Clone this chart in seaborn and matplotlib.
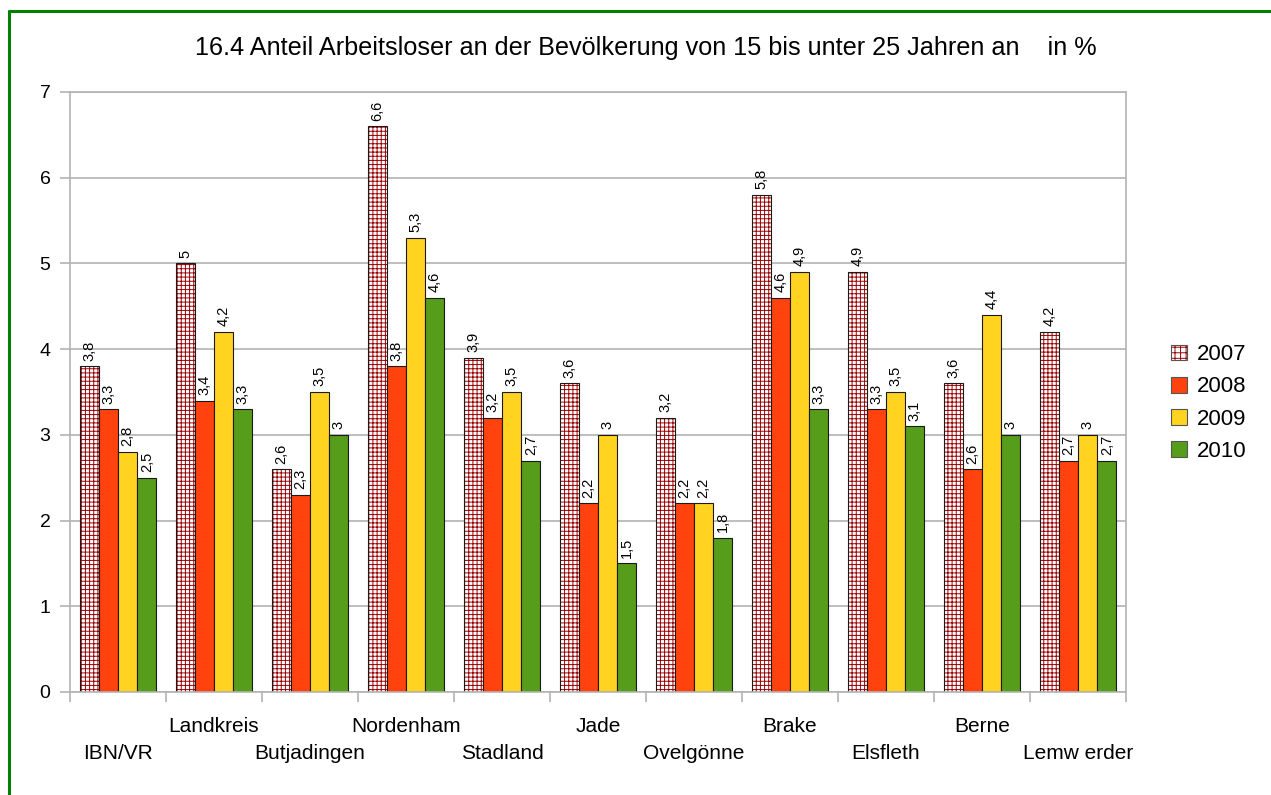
import numpy as np
import pandas as pd
import matplotlib
matplotlib.use("Agg")
import matplotlib.pyplot as plt
import seaborn as sns
from matplotlib.lines import Line2D
from matplotlib.patches import Patch
from matplotlib.colors import to_rgba

regions = ["IBN/VR", "Landkreis", "Butjadingen", "Nordenham", "Stadland", "Jade",
           "Ovelgönne", "Brake", "Elsfleth", "Berne", "Lemw erder"]
years = ["2007", "2008", "2009", "2010"]
v2007 = [3.8, 5.0, 2.6, 6.6, 3.9, 3.6, 3.2, 5.8, 4.9, 3.6, 4.2]
v2008 = [3.3, 3.4, 2.3, 3.8, 3.2, 2.2, 2.2, 4.6, 3.3, 2.6, 2.7]
v2009 = [2.8, 4.2, 3.5, 5.3, 3.5, 3.0, 2.2, 4.9, 3.5, 4.4, 3.0]
v2010 = [2.5, 3.3, 3.0, 4.6, 2.7, 1.5, 1.8, 3.3, 3.1, 3.0, 2.7]
title = "16.4 Anteil Arbeitsloser an der Bevölkerung von 15 bis unter 25 Jahren an    in %"

colors = ["#FFFFFF", "#FF420E", "#FFD320", "#579D1C"]

rows = []
for y, vals in zip(years, [v2007, v2008, v2009, v2010]):
    for r, v in zip(regions, vals):
        rows.append({"region": r, "year": y, "value": v})
df = pd.DataFrame(rows)

sns.set_theme(style="white")
plt.rcParams["font.family"] = ["Liberation Sans", "DejaVu Sans"]
plt.rcParams["text.color"] = "black"
plt.rcParams["hatch.linewidth"] = 0.6

fig = plt.figure(figsize=(12.71, 7.95), dpi=100)
ax = fig.add_axes([70/1271, 1-692/795, (1126-70)/1271, 600/795])

sns.barplot(data=df, x="region", y="value", hue="year", order=regions,
            hue_order=years, palette=colors, edgecolor="#1a1a1a", linewidth=0.8,
            width=0.8, ax=ax, legend=False, saturation=1)

hatch_col = to_rgba("#9a0000")
for p in ax.containers[0]:
    p.set_hatch("++++")
    p._hatch_color = hatch_col
    p._hatch_linewidth = 0.7

for cont in ax.containers:
    ax.bar_label(cont, labels=[f"{v:g}".replace(".", ",") for v in cont.datavalues],
                 rotation=90, padding=4, fontsize=10.5, color="#000000")

ax.set_ylim(0, 7)
ax.set_xlim(-0.5, 10.5)
ax.set_yticks(range(0, 8))
ax.set_yticklabels([str(i) for i in range(8)], fontsize=14)
ax.yaxis.grid(True, color="#b3b3b3", linewidth=1.2)
ax.set_axisbelow(True)
for s in ax.spines.values():
    s.set_color("#b3b3b3")
    s.set_linewidth(1.2)
ax.tick_params(axis="y", which="major", length=7, color="#b3b3b3", width=1.2,
               left=True, pad=7, labelcolor="black")
ax.set_xticks(np.arange(len(regions)))
ax.set_xticklabels([])
ax.set_xticks(np.arange(-0.5, len(regions)), minor=True)
ax.tick_params(axis="x", which="major", length=0)
ax.tick_params(axis="x", which="minor", length=7, color="#b3b3b3", width=1.2,
               bottom=True, direction="out")
ax.set_xlabel("")
ax.set_ylabel("")

for i, r in enumerate(regions):
    off = -44.5 if i % 2 == 0 else -24.5
    ax.annotate(r, xy=(i, 0), xycoords=("data", "axes fraction"),
                xytext=(0, off), textcoords="offset points",
                ha="center", va="center", fontsize=15, color="black")

fig.text(646/1271, 1-48/795, title, ha="center", va="center", fontsize=18.2,
         color="black")

handles = []
for y, c in zip(years, colors):
    if y == "2007":
        h = Patch(facecolor="white", edgecolor="#555555", hatch="+++", linewidth=0.8)
    else:
        h = Patch(facecolor=c, edgecolor="#555555", linewidth=0.8)
    handles.append(h)
leg = fig.legend(handles=handles, labels=years, loc="center left",
                 bbox_to_anchor=(1171/1271, 1-403/795), frameon=False, fontsize=16,
                 handlelength=0.72, handleheight=0.72, handletextpad=0.45,
                 labelspacing=0.5, borderpad=0, borderaxespad=0)
for h in leg.legend_handles:
    if h.get_hatch():
        h._hatch_color = hatch_col
        h._hatch_linewidth = 0.7

green = "#008000"
fig.add_artist(Line2D([8.5/1271, 1], [1-11/795, 1-11/795], color=green, lw=2.2,
                      transform=fig.transFigure))
fig.add_artist(Line2D([9/1271, 9/1271], [0, 1-11/795], color=green, lw=2.2,
                      transform=fig.transFigure))

fig.savefig("out.png", dpi=100, facecolor="white")
